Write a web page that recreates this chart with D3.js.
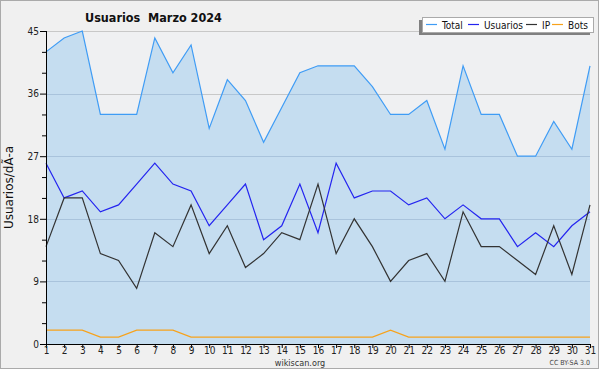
<!DOCTYPE html>
<html>
<head>
<meta charset="utf-8">
<script src="https://cdn.jsdelivr.net/npm/d3@7"></script>
<style>
  body { margin: 0; background: #fff; }
  svg { display: block; font-family: "DejaVu Sans Condensed", "DejaVu Sans", sans-serif; }
</style>
</head>
<body>
<svg id="chart" width="600" height="370"></svg>
<script>
const days = d3.range(1, 32)
const total = [42, 44, 45, 33, 33, 33, 44, 39, 43, 31, 38, 35, 29, 34, 39, 40, 40, 40, 37, 33, 33, 35, 28, 40, 33, 33, 27, 27, 32, 28, 40]
const usuarios = [26, 21, 22, 19, 20, 23, 26, 23, 22, 17, 20, 23, 15, 17, 23, 16, 26, 21, 22, 22, 20, 21, 18, 20, 18, 18, 14, 16, 14, 17, 19]
const ip = [14, 21, 21, 13, 12, 8, 16, 14, 20, 13, 17, 11, 13, 16, 15, 23, 13, 18, 14, 9, 12, 13, 9, 19, 14, 14, 12, 10, 17, 10, 20]
const bots = [2, 2, 2, 1, 1, 2, 2, 2, 1, 1, 1, 1, 1, 1, 1, 1, 1, 1, 1, 2, 1, 1, 1, 1, 1, 1, 1, 1, 1, 1, 1]
const yTicks = [0, 9, 18, 27, 36, 45]
const seriesNames = ["Total", "Usuarios", "IP", "Bots"]
const seriesColors = ["#3f9cf5", "#2424f0", "#333333", "#f7a21b"]

const svg = d3.select("#chart")
const margin = { top: 31, left: 46, bottom: 26, right: 10 }
const width = 600, height = 370

// frame
svg.append("rect").attr("x", 0.5).attr("y", 0.5).attr("width", 598).attr("height", 368)
    .attr("fill", "#f0f0f0").attr("stroke", "#aaaaaa")

const x = d3.scaleLinear().domain([1, 31]).range([margin.left, width - margin.right])
const y = d3.scaleLinear().domain([0, 45]).range([height - margin.bottom, margin.top])

svg.append("rect").attr("x", x(1)).attr("y", y(45)).attr("width", x(31) - x(1)).attr("height", y(0) - y(45))
    .attr("fill", "#eff0f2")

// grid
svg.append("g").selectAll("line").data(yTicks.filter(d => d > 0)).enter().append("line")
    .attr("x1", x(1)).attr("x2", x(31))
    .attr("y1", d => Math.round(y(d)) + 0.5).attr("y2", d => Math.round(y(d)) + 0.5)
    .attr("stroke", "#c8c8c8")

// total area
const area = d3.area().x((d, i) => x(days[i])).y0(y(0)).y1(d => y(d))
svg.append("path").datum(total).attr("d", area).attr("fill", "#c5ddf0")

svg.append("clipPath").attr("id", "clipArea").append("path").datum(total).attr("d", area)

// grid on top of fill
svg.append("g").selectAll("line").data(yTicks.filter(d => d > 0)).enter().append("line")
    .attr("x1", x(1)).attr("x2", x(31))
    .attr("y1", d => Math.round(y(d)) + 0.5).attr("y2", d => Math.round(y(d)) + 0.5)
    .attr("stroke", "#a9c3dc")
    .attr("clip-path", "url(#clipArea)")

const line = d3.line().x((d, i) => x(days[i])).y(d => y(d))
const allSeries = [total, usuarios, ip, bots]
allSeries.forEach((s, k) => {
    svg.append("path").datum(s).attr("d", line)
        .attr("fill", "none").attr("stroke", seriesColors[k]).attr("stroke-width", 1.2)
})

// axes
const yAxis = svg.append("g").attr("transform", "translate(" + x(1) + ",0)")
    .call(d3.axisLeft(y).tickValues(d3.range(0, 46, 3)).tickSize(4).tickFormat(d => yTicks.includes(d) ? d : ""))
yAxis.selectAll("line").attr("x2", d => yTicks.includes(d) ? -6 : -4)
yAxis.select(".domain").attr("stroke", "#000").attr("d", "M0.5," + y(45) + "V" + y(0))
yAxis.selectAll("text").attr("font-size", 10).attr("font-family", "DejaVu Sans Condensed").attr("fill", "#222").attr("x", -7)

const xAxis = svg.append("g").attr("transform", "translate(0," + y(0) + ")")
    .call(d3.axisBottom(x).tickValues(days).tickSize(4).tickFormat(d3.format("d")))
xAxis.select(".domain").attr("stroke", "#000").attr("d", "M" + x(1) + ",0.5H" + x(31))
xAxis.selectAll("text").attr("font-size", 10).attr("font-family", "DejaVu Sans Condensed").attr("fill", "#222").attr("y", 3)

// title
svg.append("text").attr("x", 85).attr("y", 22).attr("font-size", 12.5).attr("font-weight", "bold")
    .attr("fill", "#111").attr("xml:space", "preserve").text("Usuarios  Marzo 2024")

// y label
svg.append("text").attr("transform", "translate(13," + ((y(0) + y(45)) / 2) + ") rotate(-90)")
    .attr("text-anchor", "middle").attr("font-size", 12).attr("font-family", "DejaVu Sans")
    .attr("fill", "#111").text("Usuarios/dÃ-a")

// footer
svg.append("text").attr("x", 300).attr("y", 366).attr("text-anchor", "middle")
    .attr("font-size", 9).attr("fill", "#333").text("wikiscan.org")
svg.append("text").attr("x", 590).attr("y", 365).attr("text-anchor", "end")
    .attr("font-size", 7).attr("fill", "#444").text("CC BY-SA 3.0")

// legend
const lg = svg.append("g")
lg.append("rect").attr("x", 419).attr("y", 20).attr("width", 171).attr("height", 15).attr("fill", "#808080")
lg.append("rect").attr("x", 422.5).attr("y", 17.5).attr("width", 171).attr("height", 15)
    .attr("fill", "#fff").attr("stroke", "#aaaaaa")
const legendX = [426, 468, 526, 552]
seriesNames.forEach((name, k) => {
    lg.append("line").attr("x1", legendX[k]).attr("x2", legendX[k] + 11).attr("y1", 24.5).attr("y2", 24.5)
        .attr("stroke", seriesColors[k]).attr("stroke-width", 1.2)
    lg.append("text").attr("x", legendX[k] + 16).attr("y", 29).attr("font-size", 10)
        .attr("fill", "#111").text(name)
})
</script>
</body>
</html>
